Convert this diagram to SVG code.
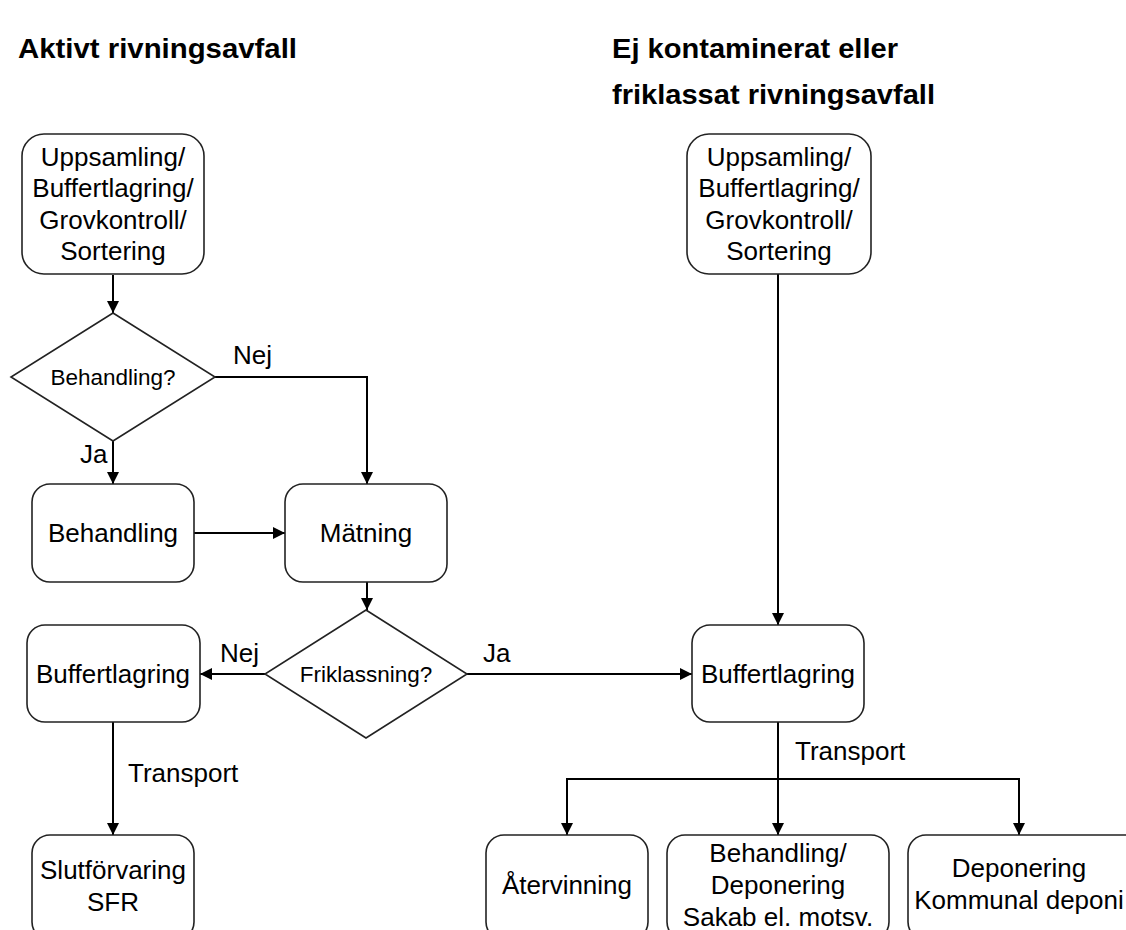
<svg xmlns="http://www.w3.org/2000/svg" width="1126" height="930" viewBox="0 0 1126 930">
<style>
.box{fill:#fff;stroke:#222;stroke-width:1.6}
.t{font-family:"Liberation Sans",Arial,sans-serif;font-size:26px;fill:#000;text-anchor:middle}
.ts{font-family:"Liberation Sans",Arial,sans-serif;font-size:22.5px;fill:#000;text-anchor:middle}
.l{font-family:"Liberation Sans",Arial,sans-serif;font-size:26px;fill:#000}
.h{font-family:"Liberation Sans",Arial,sans-serif;font-size:28px;font-weight:bold;fill:#000}
.c{fill:none;stroke:#000;stroke-width:2}
</style>
<defs>
<marker id="ah" markerWidth="12" markerHeight="12" refX="12" refY="6" orient="auto" markerUnits="userSpaceOnUse">
<path d="M0,0 L12,6 L0,12 Z" fill="#000"/>
</marker>
</defs>
<rect width="1126" height="930" fill="#fff"/>
<g id="headings">
<text class="h" x="18" y="58" textLength="279" lengthAdjust="spacingAndGlyphs">Aktivt rivningsavfall</text>
<text class="h" x="612" y="58" textLength="286" lengthAdjust="spacingAndGlyphs">Ej kontaminerat eller</text>
<text class="h" x="612" y="104" textLength="323" lengthAdjust="spacingAndGlyphs">friklassat rivningsavfall</text>
</g>
<g id="connectors">
<line class="c" x1="113" y1="275" x2="113" y2="313" marker-end="url(#ah)"/>
<polyline class="c" points="215,377 367,377 367,484" marker-end="url(#ah)"/>
<line class="c" x1="113" y1="441" x2="113" y2="484" marker-end="url(#ah)"/>
<line class="c" x1="194" y1="533" x2="285" y2="533" marker-end="url(#ah)"/>
<line class="c" x1="367" y1="582" x2="367" y2="610" marker-end="url(#ah)"/>
<line class="c" x1="265" y1="674" x2="200" y2="674" marker-end="url(#ah)"/>
<line class="c" x1="467" y1="674" x2="692" y2="674" marker-end="url(#ah)"/>
<line class="c" x1="113" y1="722" x2="113" y2="835" marker-end="url(#ah)"/>
<line class="c" x1="778" y1="274" x2="778" y2="625" marker-end="url(#ah)"/>
<line class="c" x1="778" y1="722" x2="778" y2="835" marker-end="url(#ah)"/>
<polyline class="c" points="567,835 567,779 1019,779 1019,835" marker-end="url(#ah)"/>
<line class="c" x1="567" y1="779" x2="567" y2="835" marker-end="url(#ah)"/>
<text class="l" x="233" y="364">Nej</text>
<text class="l" x="80" y="463">Ja</text>
<text class="l" x="220" y="662">Nej</text>
<text class="l" x="483" y="662">Ja</text>
<text class="l" x="128" y="782">Transport</text>
<text class="l" x="795" y="760">Transport</text>
</g>
<g id="n1">
<rect class="box" x="22" y="134" width="182" height="140" rx="22"/>
<text class="t" x="113" y="166">Uppsamling/</text>
<text class="t" x="113" y="197">Buffertlagring/</text>
<text class="t" x="113" y="229">Grovkontroll/</text>
<text class="t" x="113" y="260">Sortering</text>
</g>
<g id="d1">
<polygon class="box" points="113,313 215,377 113,441 11,377"/>
<text class="ts" x="113" y="385">Behandling?</text>
</g>
<g id="n2">
<rect class="box" x="32" y="484" width="162" height="98" rx="18"/>
<text class="t" x="113" y="542">Behandling</text>
</g>
<g id="n3">
<rect class="box" x="285" y="484" width="162" height="98" rx="18"/>
<text class="t" x="366" y="542">Mätning</text>
</g>
<g id="d2">
<polygon class="box" points="366,610 467,674 366,738 265,674"/>
<text class="ts" x="366" y="682">Friklassning?</text>
</g>
<g id="n4">
<rect class="box" x="27" y="625" width="173" height="97" rx="18"/>
<text class="t" x="113" y="683">Buffertlagring</text>
</g>
<g id="n5">
<rect class="box" x="32" y="835" width="162" height="105" rx="18"/>
<text class="t" x="113" y="879">Slutförvaring</text>
<text class="t" x="113" y="911">SFR</text>
</g>
<g id="n6">
<rect class="box" x="687" y="134" width="184" height="140" rx="22"/>
<text class="t" x="779" y="166">Uppsamling/</text>
<text class="t" x="779" y="197">Buffertlagring/</text>
<text class="t" x="779" y="229">Grovkontroll/</text>
<text class="t" x="779" y="260">Sortering</text>
</g>
<g id="n7">
<rect class="box" x="692" y="625" width="172" height="97" rx="18"/>
<text class="t" x="778" y="683">Buffertlagring</text>
</g>
<g id="n8">
<rect class="box" x="486" y="835" width="162" height="105" rx="18"/>
<text class="t" x="567" y="894">Återvinning</text>
</g>
<g id="n9">
<rect class="box" x="667" y="835" width="222" height="105" rx="18"/>
<text class="t" x="778" y="862">Behandling/</text>
<text class="t" x="778" y="894">Deponering</text>
<text class="t" x="778" y="926">Sakab el. motsv.</text>
</g>
<g id="n10">
<rect class="box" x="908" y="835" width="240" height="105" rx="18"/>
<text class="t" x="1019" y="877">Deponering</text>
<text class="t" x="1019" y="909">Kommunal deponi</text>
</g>
</svg>
